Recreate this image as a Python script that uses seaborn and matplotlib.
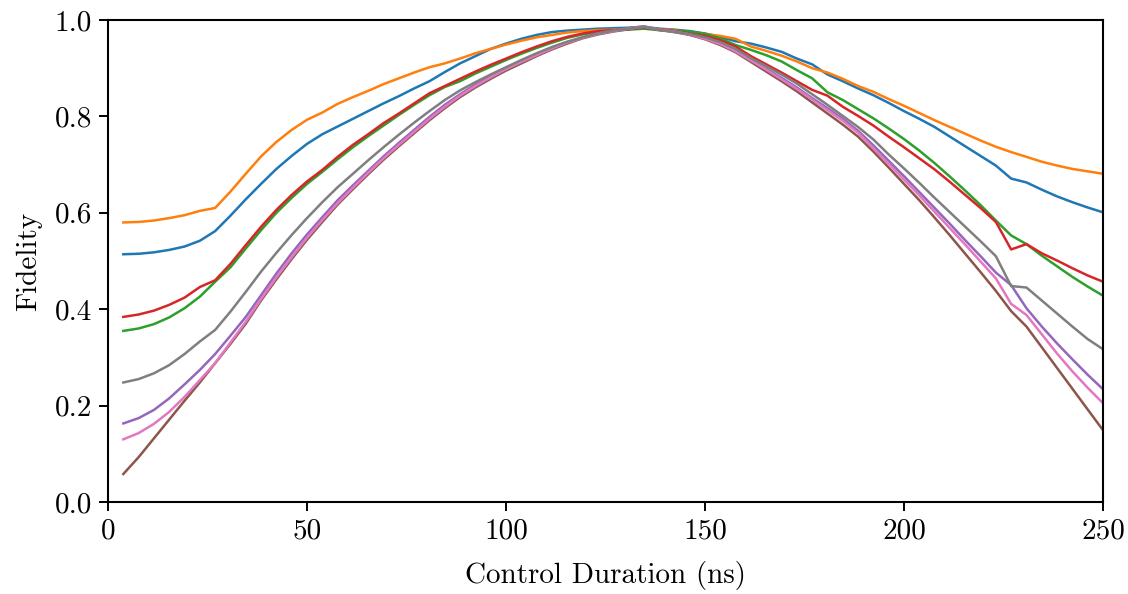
import numpy as np
import pandas as pd
import matplotlib
matplotlib.use("Agg")
import matplotlib.pyplot as plt
import seaborn as sns

# Control duration grid (ns)
durations = [3.85, 7.69, 11.54, 15.38, 19.23, 23.08, 26.92, 30.77, 34.62, 38.46,
             42.31, 46.15, 50.0, 53.85, 57.69, 61.54, 65.38, 69.23, 73.08, 76.92,
             80.77, 84.62, 88.46, 92.31, 96.15, 100.0, 103.85, 107.69, 111.54, 115.38,
             119.23, 123.08, 126.92, 130.77, 134.62, 138.46, 142.31, 146.15, 150.0, 153.85,
             157.69, 161.54, 165.38, 169.23, 173.08, 176.92, 180.77, 184.62, 188.46, 192.31,
             196.15, 200.0, 203.85, 207.69, 211.54, 215.38, 219.23, 223.08, 226.92, 230.77,
             234.62, 238.46, 242.31, 246.15, 250.0]

s_blue = [0.514, 0.515, 0.518, 0.523, 0.530, 0.542, 0.562,
          0.594, 0.628, 0.660, 0.691, 0.718, 0.743, 0.763, 0.779, 0.795, 0.811, 0.827, 0.842, 0.858, 0.873, 0.892,
          0.910, 0.925, 0.940, 0.951, 0.961, 0.969, 0.975, 0.978, 0.980, 0.982, 0.983, 0.984, 0.986, 0.982, 0.980,
          0.977, 0.972, 0.965, 0.956, 0.951, 0.943, 0.934, 0.920, 0.908, 0.887, 0.873,
          0.858, 0.844, 0.828, 0.811, 0.795, 0.778, 0.758, 0.738, 0.718, 0.698, 0.671, 0.663, 0.648, 0.634, 0.622, 0.611, 0.601]

s_orange = [0.580, 0.581, 0.584, 0.589, 0.595, 0.604, 0.610,
            0.644, 0.681, 0.717, 0.747, 0.772, 0.793, 0.808, 0.826, 0.840, 0.853, 0.867, 0.879, 0.891, 0.902, 0.910,
            0.920, 0.931, 0.940, 0.949, 0.957, 0.964, 0.969, 0.974, 0.977, 0.979, 0.980, 0.982, 0.984, 0.981, 0.979,
            0.974, 0.971, 0.967, 0.961, 0.945, 0.936, 0.926, 0.914, 0.900, 0.891, 0.878,
            0.863, 0.851, 0.836, 0.822, 0.807, 0.792, 0.778, 0.764, 0.750, 0.737, 0.726, 0.716, 0.706, 0.698, 0.691, 0.686, 0.681]

s_green = [0.355, 0.360, 0.369, 0.383, 0.402, 0.426, 0.457,
           0.487, 0.526, 0.564, 0.600, 0.631, 0.660, 0.685, 0.711, 0.736, 0.759, 0.781, 0.803, 0.824, 0.844, 0.861,
           0.873, 0.889, 0.903, 0.917, 0.930, 0.942, 0.953, 0.963, 0.970, 0.975, 0.978, 0.980, 0.982, 0.979, 0.978,
           0.976, 0.971, 0.962, 0.948, 0.938, 0.927, 0.914, 0.896, 0.879, 0.850, 0.834,
           0.815, 0.796, 0.775, 0.753, 0.729, 0.703, 0.675, 0.646, 0.616, 0.584, 0.553, 0.535, 0.511, 0.489, 0.467, 0.447, 0.428]

s_red = [0.384, 0.389, 0.397, 0.409, 0.424, 0.446, 0.460,
         0.494, 0.533, 0.571, 0.606, 0.637, 0.665, 0.689, 0.716, 0.741, 0.763, 0.786, 0.806, 0.827, 0.848, 0.863,
         0.878, 0.893, 0.907, 0.920, 0.933, 0.945, 0.956, 0.965, 0.972, 0.977, 0.979, 0.981, 0.984, 0.981, 0.977,
         0.972, 0.967, 0.958, 0.945, 0.925, 0.908, 0.891, 0.873, 0.855, 0.843, 0.820,
         0.801, 0.781, 0.758, 0.736, 0.713, 0.690, 0.664, 0.637, 0.610, 0.581, 0.524, 0.535, 0.516, 0.501, 0.485, 0.470, 0.457]

s_purple = [0.163, 0.174, 0.191, 0.215, 0.244, 0.274, 0.307,
            0.345, 0.384, 0.429, 0.474, 0.516, 0.555, 0.591, 0.626, 0.657, 0.687, 0.717, 0.745, 0.772, 0.799, 0.824,
            0.846, 0.866, 0.884, 0.900, 0.915, 0.929, 0.942, 0.954, 0.964, 0.972, 0.978, 0.983, 0.987, 0.980, 0.976,
            0.970, 0.962, 0.951, 0.936, 0.918, 0.899, 0.880, 0.860, 0.838, 0.817, 0.795,
            0.770, 0.740, 0.708, 0.676, 0.643, 0.610, 0.577, 0.543, 0.510, 0.476, 0.450, 0.402, 0.364, 0.329, 0.296, 0.264, 0.234]

s_brown = [0.058, 0.093, 0.132, 0.171, 0.210, 0.248, 0.288,
           0.328, 0.370, 0.418, 0.462, 0.504, 0.544, 0.581, 0.617, 0.649, 0.680, 0.710, 0.738, 0.765, 0.792, 0.817,
           0.840, 0.860, 0.878, 0.895, 0.910, 0.925, 0.939, 0.951, 0.962, 0.970, 0.976, 0.981, 0.985, 0.979, 0.975,
           0.969, 0.960, 0.948, 0.933, 0.913, 0.893, 0.873, 0.852, 0.829, 0.806, 0.783,
           0.758, 0.727, 0.694, 0.660, 0.626, 0.590, 0.553, 0.515, 0.477, 0.438, 0.396, 0.364, 0.321, 0.278, 0.235, 0.192, 0.149]

s_pink = [0.130, 0.143, 0.162, 0.187, 0.218, 0.253, 0.288,
          0.331, 0.374, 0.421, 0.466, 0.508, 0.548, 0.585, 0.620, 0.652, 0.683, 0.713, 0.741, 0.768, 0.795, 0.820,
          0.843, 0.863, 0.881, 0.898, 0.913, 0.927, 0.941, 0.953, 0.963, 0.971, 0.977, 0.982, 0.986, 0.980, 0.976,
          0.970, 0.961, 0.950, 0.935, 0.916, 0.897, 0.877, 0.857, 0.835, 0.813, 0.791,
          0.766, 0.734, 0.702, 0.669, 0.636, 0.602, 0.568, 0.534, 0.499, 0.464, 0.411, 0.388, 0.348, 0.308, 0.271, 0.237, 0.205]

s_gray = [0.248, 0.255, 0.267, 0.284, 0.307, 0.333, 0.357,
          0.395, 0.436, 0.478, 0.517, 0.554, 0.589, 0.622, 0.653, 0.681, 0.709, 0.736, 0.762, 0.787, 0.811, 0.834,
          0.854, 0.871, 0.887, 0.902, 0.917, 0.931, 0.944, 0.955, 0.964, 0.972, 0.978, 0.982, 0.986, 0.980, 0.975,
          0.971, 0.964, 0.954, 0.940, 0.921, 0.904, 0.887, 0.868, 0.846, 0.824, 0.801,
          0.778, 0.752, 0.721, 0.692, 0.662, 0.631, 0.601, 0.571, 0.541, 0.510, 0.448, 0.445, 0.418, 0.391, 0.364, 0.338, 0.317]

series_names = ["s0", "s1", "s2", "s3", "s4", "s5", "s6", "s7"]
series_values = [s_blue, s_orange, s_green, s_red, s_purple, s_brown, s_pink, s_gray]
x_ticks = [0, 50, 100, 150, 200, 250]
y_ticks = [0.0, 0.2, 0.4, 0.6, 0.8, 1.0]

frames = []
for name, vals in zip(series_names, series_values):
    frames.append(pd.DataFrame({"duration": durations, "fidelity": vals, "series": name}))
df = pd.concat(frames, ignore_index=True)

FS = 21

plt.rcParams.update({
    "font.family": "serif",
    "font.serif": ["cmr10", "DejaVu Serif"],
    "mathtext.fontset": "cm",
    "axes.formatter.use_mathtext": True,
    "axes.unicode_minus": False,
    "font.size": FS,
})

fig = plt.figure(figsize=(11.28, 5.94), dpi=100)
ax = fig.add_axes([108 / 1128, 1 - 502 / 594, (1103 - 108) / 1128, (502 - 20) / 594])

palette = dict(zip(series_names, sns.color_palette("tab10", 8)))
sns.lineplot(data=df, x="duration", y="fidelity", hue="series", hue_order=series_names,
             palette=palette, legend=False, linewidth=1.8, ax=ax, estimator=None, sort=False)

ax.set_xlim(0, 250)
ax.set_ylim(0, 1)
ax.set_xticks(x_ticks)
ax.set_yticks(y_ticks)
ax.set_xticklabels([str(t) for t in x_ticks])
ax.set_yticklabels([f"{t:.1f}" for t in y_ticks])
ax.set_xlabel("Control Duration (ns)", fontsize=FS, labelpad=12)
ax.set_ylabel("Fidelity", fontsize=FS, labelpad=9)
for sp in ax.spines.values():
    sp.set_linewidth(1.5)
ax.tick_params(axis="both", length=6.5, width=1.4, labelsize=FS, pad=5)

fig.savefig("out.png", dpi=100)
